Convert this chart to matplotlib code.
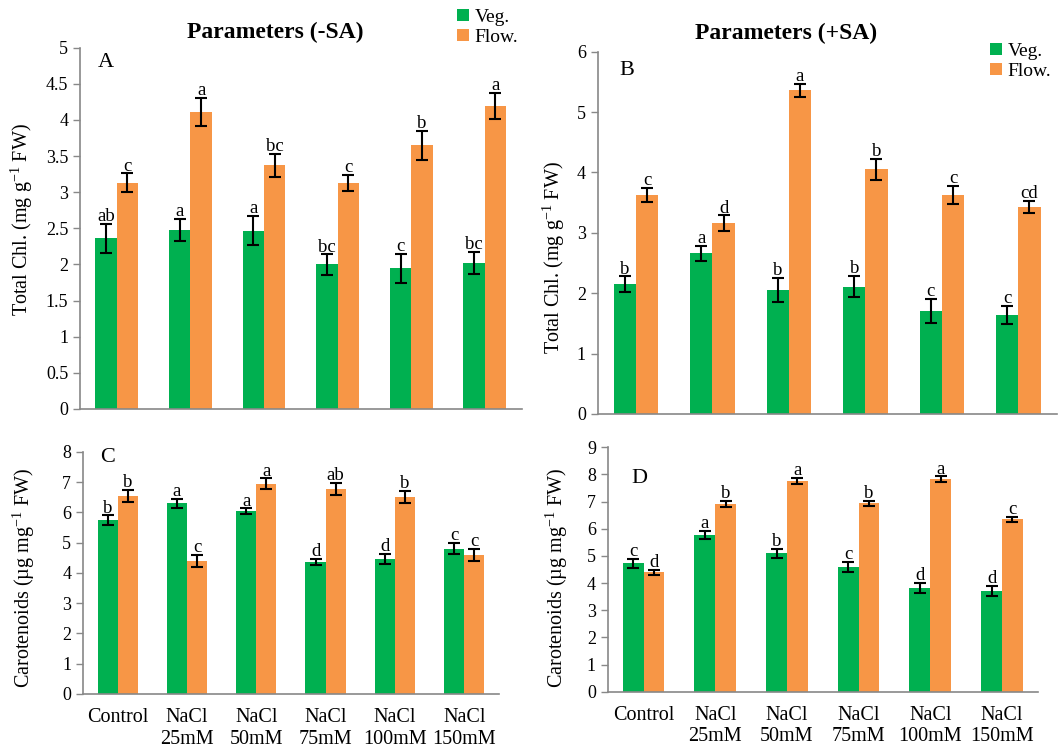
import numpy as np
import matplotlib
matplotlib.use("Agg")
import matplotlib.pyplot as plt

# data
groups = ["Control", "NaCl\n25mM", "NaCl\n50mM", "NaCl\n75mM", "NaCl\n100mM", "NaCl\n150mM"]

chl_minus_veg = [2.36, 2.48, 2.47, 2.00, 1.95, 2.02]
chl_minus_veg_err = [0.20, 0.15, 0.20, 0.14, 0.20, 0.15]
chl_minus_flow = [3.13, 4.11, 3.37, 3.13, 3.65, 4.19]
chl_minus_flow_err = [0.13, 0.20, 0.16, 0.11, 0.20, 0.18]
chl_minus_veg_let = ["ab", "a", "a", "bc", "c", "bc"]
chl_minus_flow_let = ["c", "a", "bc", "c", "b", "a"]

chl_plus_veg = [2.15, 2.66, 2.06, 2.11, 1.71, 1.64]
chl_plus_veg_err = [0.13, 0.12, 0.20, 0.18, 0.20, 0.15]
chl_plus_flow = [3.63, 3.16, 5.36, 4.05, 3.63, 3.43]
chl_plus_flow_err = [0.12, 0.13, 0.11, 0.18, 0.15, 0.10]
chl_plus_veg_let = ["b", "a", "b", "b", "c", "c"]
chl_plus_flow_let = ["c", "d", "a", "b", "c", "cd"]

car_minus_veg = [5.74, 6.30, 6.04, 4.35, 4.46, 4.80]
car_minus_veg_err = [0.16, 0.15, 0.09, 0.10, 0.16, 0.18]
car_minus_flow = [6.55, 4.39, 6.94, 6.77, 6.50, 4.58]
car_minus_flow_err = [0.20, 0.20, 0.18, 0.20, 0.20, 0.20]
car_minus_veg_let = ["b", "a", "a", "d", "d", "c"]
car_minus_flow_let = ["b", "c", "a", "ab", "b", "c"]

car_plus_veg = [4.73, 5.77, 5.10, 4.59, 3.82, 3.71]
car_plus_veg_err = [0.17, 0.15, 0.17, 0.20, 0.20, 0.20]
car_plus_flow = [4.39, 6.92, 7.76, 6.94, 7.83, 6.35]
car_plus_flow_err = [0.10, 0.10, 0.10, 0.10, 0.10, 0.10]
car_plus_veg_let = ["c", "a", "b", "c", "d", "d"]
car_plus_flow_let = ["d", "b", "a", "b", "a", "c"]

plt.rcParams['font.family'] = ['Liberation Serif', 'DejaVu Serif']
plt.rcParams['mathtext.fontset'] = 'custom'
plt.rcParams['mathtext.rm'] = 'Liberation Serif'

GREEN = '#00B050'
ORANGE = '#F79646'
GREY = '#888888'

fig = plt.figure(figsize=(10.61, 7.5), dpi=100)


def panel(rect, veg, veg_err, flow, flow_err, veg_let, flow_let, ymax, step,
          ylabel, ylab_y, ylab_x, letter, let_xy, show_x):
    ax = fig.add_axes(rect)
    x = np.arange(len(veg))
    w = 0.29
    ax.bar(x - w / 2, veg, width=w, color=GREEN, label="Veg.", zorder=2)
    ax.bar(x + w / 2, flow, width=w, color=ORANGE, label="Flow.", zorder=2)
    ax.errorbar(x - w / 2, veg, yerr=veg_err, fmt='none', ecolor='black',
                elinewidth=1.5, capsize=4, capthick=1.5, zorder=3)
    ax.errorbar(x + w / 2, flow, yerr=flow_err, fmt='none', ecolor='black',
                elinewidth=1.5, capsize=4, capthick=1.5, zorder=3)
    for a, b, e, t in zip(x - w / 2, veg, veg_err, veg_let):
        ax.annotate(t, (a, b + e), xytext=(0, 2), textcoords='offset points',
                    ha='center', va='baseline', fontsize=13.5)
    for a, b, e, t in zip(x + w / 2, flow, flow_err, flow_let):
        ax.annotate(t, (a, b + e), xytext=(0, 2), textcoords='offset points',
                    ha='center', va='baseline', fontsize=13.5)

    ax.set_xlim(-0.5, len(veg) - 0.5)
    ax.set_ylim(0, ymax)
    ax.set_yticks(np.arange(0, ymax + step / 2, step))
    ax.yaxis.set_major_formatter(matplotlib.ticker.FuncFormatter(lambda v, p: '%g' % v))
    ax.set_xticks(x)
    if show_x:
        ax.set_xticklabels(groups, fontsize=14.5, linespacing=1.2)
    else:
        ax.set_xticklabels([])
    ax.tick_params(axis='x', length=0, pad=10)
    ax.tick_params(axis='y', labelsize=13, color=GREY, length=5, width=1)
    for s in ['top', 'right']:
        ax.spines[s].set_visible(False)
    for s in ['left', 'bottom']:
        ax.spines[s].set_color(GREY)
        ax.spines[s].set_linewidth(1.2)

    ax.set_ylabel(ylabel, fontsize=14.5)
    ax.yaxis.set_label_coords(ylab_x, ylab_y)
    ax.text(let_xy[0], let_xy[1], letter, transform=ax.transAxes,
            ha='center', va='center', fontsize=16)
    return ax


chl_label = r'Total Chl. (mg g$^{\mathregular{-1}}$ FW)'
car_label = r'Carotenoids (µg mg$^{\mathregular{-1}}$ FW)'

axA = panel([0.0754, 0.4547, 0.4162, 0.4817], chl_minus_veg, chl_minus_veg_err,
            chl_minus_flow, chl_minus_flow_err, chl_minus_veg_let, chl_minus_flow_let,
            5, 0.5, chl_label, 0.523, -0.102, "A", (0.059, 0.958), False)
axB = panel([0.5633, 0.448, 0.4326, 0.4831], chl_plus_veg, chl_plus_veg_err,
            chl_plus_flow, chl_plus_flow_err, chl_plus_veg_let, chl_plus_flow_let,
            6, 1, chl_label, 0.433, -0.067, "B", (0.064, 0.947), False)
axC = panel([0.0782, 0.0747, 0.392, 0.323], car_minus_veg, car_minus_veg_err,
            car_minus_flow, car_minus_flow_err, car_minus_veg_let, car_minus_flow_let,
            8, 1, car_label, 0.479, -0.111, "C", (0.06, 0.978), True)
axD = panel([0.5728, 0.0777, 0.4053, 0.3259], car_plus_veg, car_plus_veg_err,
            car_plus_flow, car_plus_flow_err, car_plus_veg_let, car_plus_flow_let,
            9, 1, car_label, 0.465, -0.088, "D", (0.073, 0.874), True)

axA.text(0.4416, 1.0435, "Parameters (-SA)", transform=axA.transAxes,
         ha='center', va='center', fontsize=17, fontweight='bold')
axB.text(0.41, 1.0516, "Parameters (+SA)", transform=axB.transAxes,
         ha='center', va='center', fontsize=17, fontweight='bold')

for ax, anchor in [(axA, (0.4307, 0.988)), (axB, (0.9331, 0.9427))]:
    ax.legend(loc='upper left', bbox_to_anchor=anchor, bbox_transform=fig.transFigure,
              frameon=False, fontsize=14, handlelength=0.6, handleheight=0.6,
              handletextpad=0.3, labelspacing=0.15, borderpad=0, borderaxespad=0)

fig.savefig("out.png", dpi=100)
